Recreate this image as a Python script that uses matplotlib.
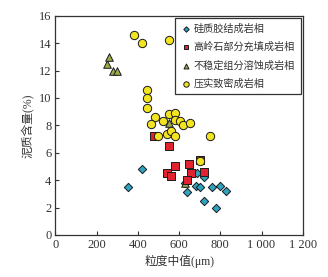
import matplotlib
matplotlib.use("Agg")
import matplotlib.pyplot as plt

plt.rcParams['font.family'] = ['Liberation Serif', 'Noto Sans CJK SC']

labels = ["硅质胶结成岩相", "高岭石部分充填成岩相", "不稳定组分溶蚀成岩相", "压实致密成岩相"]

blue_x = [350, 420, 640, 680, 700, 720, 760, 800, 780, 830, 720, 630, 685]
blue_y = [3.5, 4.8, 3.1, 3.6, 3.5, 2.5, 3.5, 3.6, 2.0, 3.2, 4.2, 3.8, 4.5]

green_x = [250, 260, 280, 300, 550, 630]
green_y = [12.5, 13.0, 12.0, 12.0, 8.2, 3.8]

red_x = [480, 550, 580, 650, 540, 560, 660, 720, 640, 700]
red_y = [7.2, 6.5, 5.0, 5.2, 4.5, 4.3, 4.5, 4.6, 4.0, 5.5]

yellow_x = [380, 420, 550, 446, 446, 446, 484, 463, 521, 553, 581, 581, 602, 621, 651,
            541, 560, 500, 581, 748, 700]
yellow_y = [14.6, 14.0, 14.2, 10.6, 10.0, 9.3, 8.6, 8.1, 8.3, 8.8, 8.9, 8.4, 8.3, 8.0, 8.2,
            7.4, 7.6, 7.2, 7.2, 7.2, 5.4]

x_ticks = [0, 200, 400, 600, 800, 1000, 1200]
x_ticklabels = ["0", "200", "400", "600", "800", "1 000", "1 200"]
y_ticks = [0, 2, 4, 6, 8, 10, 12, 14, 16]

fig = plt.figure(figsize=(3.28, 2.77), dpi=100)
ax = fig.add_axes([0.169, 0.152, 0.754, 0.791])

ec = '#1a1a1a'
ax.scatter(blue_x, blue_y, marker='D', s=18, c='#2fa3c0', edgecolors=ec, linewidths=0.7, zorder=3, label=labels[0])
ax.scatter(red_x, red_y, marker='s', s=30, c='#e0232e', edgecolors=ec, linewidths=0.7, zorder=4, label=labels[1])
ax.scatter(green_x, green_y, marker='^', s=30, c='#9bab4c', edgecolors=ec, linewidths=0.7, zorder=3.5, label=labels[2])
ax.scatter(yellow_x, yellow_y, marker='o', s=36, c='#f3e421', edgecolors=ec, linewidths=0.7, zorder=5, label=labels[3])

ax.set_xlim(0, 1200)
ax.set_ylim(0, 16)
ax.set_xticks(x_ticks)
ax.set_xticklabels(x_ticklabels)
ax.set_yticks(y_ticks)
ax.tick_params(direction='in', length=3, width=0.8, labelsize=9, colors='#333333', pad=3)
for sp in ax.spines.values():
    sp.set_color('#333333')
    sp.set_linewidth(0.9)

ax.set_xlabel("粒度中值(μm)", fontsize=8.5, color='#333333', labelpad=3)
ax.set_ylabel("泥质含量(%)", fontsize=8.5, color='#333333', labelpad=3)

leg = ax.legend(loc='upper right', prop={'family': 'Noto Sans CJK SC', 'size': 7.3},
                frameon=True, fancybox=False, edgecolor='#333333', framealpha=1,
                borderaxespad=0.2, handletextpad=0.3, labelspacing=0.8,
                handlelength=1.0, markerscale=0.65, borderpad=0.55)
leg.get_frame().set_linewidth(0.9)
for t in leg.get_texts():
    t.set_color('#333333')

fig.savefig("out.png", dpi=100)
